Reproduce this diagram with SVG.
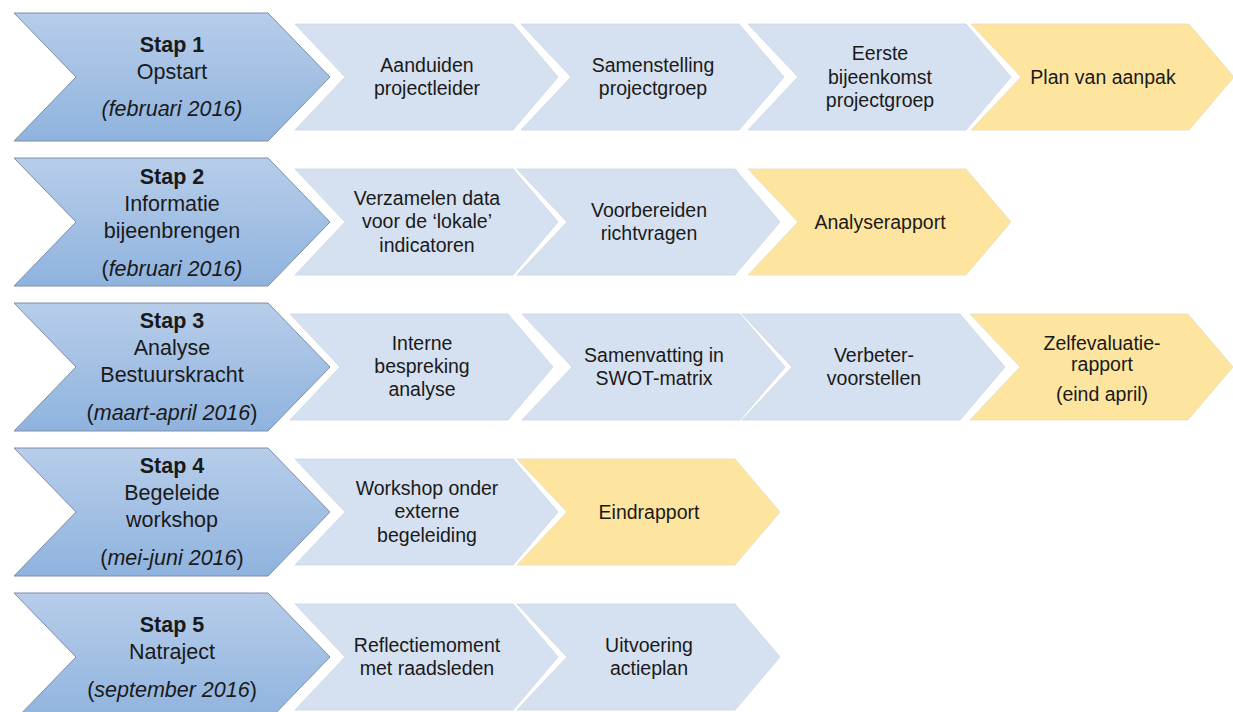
<svg xmlns="http://www.w3.org/2000/svg" width="1233" height="712" viewBox="0 0 1233 712">
<defs>
<linearGradient id="gBig" x1="0" y1="0" x2="0" y2="1">
<stop offset="0" stop-color="#b7cdea"/>
<stop offset="1" stop-color="#8fb3de"/>
</linearGradient>
<polygon id="big" points="0,0 254,0 316,64 254,128 0,128 62,64"/>
<polygon id="small" points="0,0 218,0 263,53 218,106 0,106 50,53"/>
</defs>
<style>
.big{fill:url(#gBig);stroke:#7d8ea5;stroke-width:1}
.blue{fill:#d5e0f0;stroke:#cdd5e0;stroke-width:0.8}
.yel{fill:#fde5a0;stroke:#e6dcc0;stroke-width:0.8}
text{font-family:"Liberation Sans",Arial,sans-serif;fill:#1a1a1a;text-anchor:middle}
.bt{font-size:21.5px}
.bb{font-weight:bold}
.it{font-style:italic}
.st{font-size:19.5px}
</style>
<rect width="1233" height="712" fill="#ffffff"/>
<g id="connectors"></g>

<!-- Row 1 -->
<g id="stap1">
<use href="#big" class="big" x="14" y="13"/>
<text class="bt bb" x="172" y="52">Stap 1</text>
<text class="bt" x="172" y="79">Opstart</text>
<text class="bt it" x="172" y="116">(februari 2016)</text>
</g>
<g id="s1a"><use href="#small" class="blue" x="295" y="24"/>
<text class="st" x="427" y="72">Aanduiden</text><text class="st" x="427" y="95">projectleider</text></g>
<g id="s1b"><use href="#small" class="blue" x="521" y="24"/>
<text class="st" x="653" y="72">Samenstelling</text><text class="st" x="653" y="95">projectgroep</text></g>
<g id="s1c"><use href="#small" class="blue" x="748" y="24"/>
<text class="st" x="880" y="60">Eerste</text><text class="st" x="880" y="84">bijeenkomst</text><text class="st" x="880" y="107">projectgroep</text></g>
<g id="s1d"><use href="#small" class="yel" x="971" y="24"/>
<text class="st" x="1103" y="84">Plan van aanpak</text></g>

<!-- Row 2 -->
<g id="stap2">
<use href="#big" class="big" x="14" y="158"/>
<text class="bt bb" x="172" y="184">Stap 2</text>
<text class="bt" x="172" y="211">Informatie</text>
<text class="bt" x="172" y="238">bijeenbrengen</text>
<text class="bt" x="172" y="276">(<tspan class="it">februari 2016)</tspan></text>
</g>
<g id="s2a"><use href="#small" class="blue" x="295" y="169"/>
<text class="st" x="427" y="205">Verzamelen data</text><text class="st" x="427" y="228">voor de ‘lokale’</text><text class="st" x="427" y="252">indicatoren</text></g>
<g id="s2b"><use href="#small" class="blue" x="517" y="169"/>
<text class="st" x="649" y="217">Voorbereiden</text><text class="st" x="649" y="240">richtvragen</text></g>
<g id="s2c"><use href="#small" class="yel" x="748" y="169"/>
<text class="st" x="880" y="229">Analyserapport</text></g>

<!-- Row 3 -->
<g id="stap3">
<use href="#big" class="big" x="14" y="303"/>
<text class="bt bb" x="172" y="328">Stap 3</text>
<text class="bt" x="172" y="355">Analyse</text>
<text class="bt" x="172" y="382">Bestuurskracht</text>
<text class="bt" x="172" y="420">(<tspan class="it">maart-april 2016</tspan>)</text>
</g>
<g id="s3a"><use href="#small" class="blue" x="290" y="314"/>
<text class="st" x="422" y="350">Interne</text><text class="st" x="422" y="373">bespreking</text><text class="st" x="422" y="396">analyse</text></g>
<g id="s3b"><use href="#small" class="blue" x="522" y="314"/>
<text class="st" x="654" y="362">Samenvatting in</text><text class="st" x="654" y="385">SWOT-matrix</text></g>
<g id="s3c"><use href="#small" class="blue" x="742" y="314"/>
<text class="st" x="874" y="362">Verbeter-</text><text class="st" x="874" y="385">voorstellen</text></g>
<g id="s3d"><use href="#small" class="yel" x="970" y="314"/>
<text class="st" x="1102" y="350">Zelfevaluatie-</text><text class="st" x="1102" y="371">rapport</text><text class="st" x="1102" y="401">(eind april)</text></g>

<!-- Row 4 -->
<g id="stap4">
<use href="#big" class="big" x="14" y="448"/>
<text class="bt bb" x="172" y="473">Stap 4</text>
<text class="bt" x="172" y="500">Begeleide</text>
<text class="bt" x="172" y="527">workshop</text>
<text class="bt" x="172" y="565">(<tspan class="it">mei-juni 2016</tspan>)</text>
</g>
<g id="s4a"><use href="#small" class="blue" x="295" y="459"/>
<text class="st" x="427" y="495">Workshop onder</text><text class="st" x="427" y="518">externe</text><text class="st" x="427" y="542">begeleiding</text></g>
<g id="s4b"><use href="#small" class="yel" x="517" y="459"/>
<text class="st" x="649" y="519">Eindrapport</text></g>

<!-- Row 5 -->
<g id="stap5">
<use href="#big" class="big" x="14" y="593"/>
<text class="bt bb" x="172" y="632">Stap 5</text>
<text class="bt" x="172" y="659">Natraject</text>
<text class="bt" x="172" y="697">(<tspan class="it">september 2016</tspan>)</text>
</g>
<g id="s5a"><use href="#small" class="blue" x="295" y="604"/>
<text class="st" x="427" y="652">Reflectiemoment</text><text class="st" x="427" y="675">met raadsleden</text></g>
<g id="s5b"><use href="#small" class="blue" x="517" y="604"/>
<text class="st" x="649" y="652">Uitvoering</text><text class="st" x="649" y="675">actieplan</text></g>
</svg>
